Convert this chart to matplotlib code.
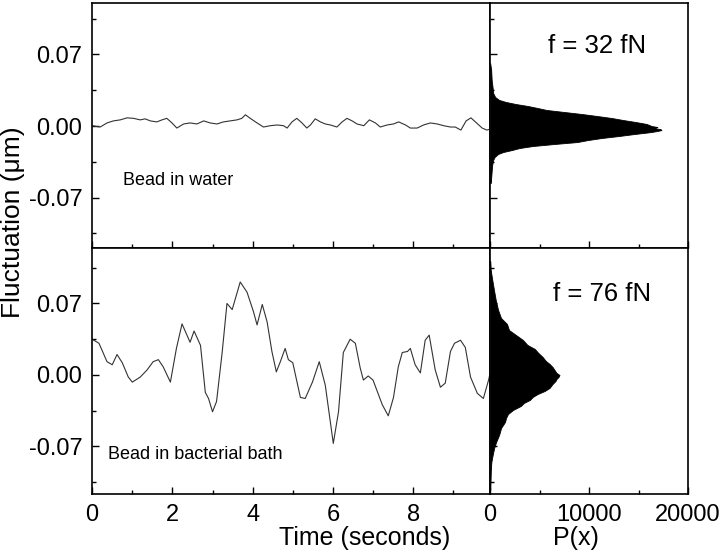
"""
Bead fluctuation traces (water vs bacterial bath) with position histograms.
Saves out.png.
"""

import matplotlib
matplotlib.use("Agg")
import matplotlib.pyplot as plt
from matplotlib.ticker import MultipleLocator

plt.rcParams.update({
    "font.family": ["Liberation Sans", "DejaVu Sans"],
    "font.size": 17,
    "axes.linewidth": 1.2,
})

LINE = "#333333"

# ── data ──────────────────────────────────────────────────────────────────────
water_t = [0.0, 0.2, 0.37, 0.53, 0.7, 0.87, 1.03, 1.2, 1.32, 1.45, 1.61, 1.74,
           1.86, 1.99, 2.11, 2.28, 2.44, 2.61, 2.78, 2.94, 3.11, 3.27, 3.44,
           3.61, 3.73, 3.82, 3.94, 4.11, 4.27, 4.44, 4.61, 4.77, 4.86, 4.98,
           5.1, 5.23, 5.35, 5.44, 5.56, 5.69, 5.81, 5.94, 6.1, 6.23, 6.35,
           6.48, 6.6, 6.77, 6.91, 7.06, 7.18, 7.35, 7.51, 7.64, 7.81, 7.93,
           8.1, 8.26, 8.43, 8.6, 8.76, 8.93, 9.05, 9.19, 9.32, 9.44, 9.58,
           9.72, 9.84, 9.92]
water_x = [0.0003, -0.001, 0.003, 0.005, 0.006, 0.008, 0.0075, 0.006, 0.007,
           0.005, 0.004, 0.006, 0.0075, 0.003, -0.002, 0.002, 0.003, 0.002,
           0.005, 0.003, 0.002, 0.004, 0.005, 0.006, 0.0075, 0.011, 0.0075,
           0.003, -0.001, 0.0003, 0.001, 0.0003, -0.002, 0.004,
           0.0075, 0.003, -0.002, 0.001, 0.007, 0.004, 0.002, 0.001, -0.001,
           0.004, 0.0075, 0.005, 0.002, 0.0003, 0.006, 0.003, -0.001, 0.001,
           0.002, 0.004, 0.001, -0.002, -0.002, 0.001, 0.003, 0.002, 0.0003,
           -0.001, -0.001, -0.004, 0.005, 0.008, 0.003, -0.002, -0.004, -0.003]

bath_t = [0.0, 0.17, 0.37, 0.5, 0.62, 0.75, 0.9, 1.0, 1.2, 1.37, 1.52, 1.65,
          1.77, 1.95, 2.1, 2.24, 2.44, 2.54, 2.7, 2.82, 2.9, 3.0, 3.1, 3.24,
          3.36, 3.49, 3.69, 3.86, 4.02, 4.11, 4.24, 4.36, 4.48, 4.59, 4.69,
          4.81, 4.89, 5.0, 5.19, 5.31, 5.49, 5.66, 5.81, 6.01, 6.14, 6.26,
          6.43, 6.56, 6.68, 6.76, 6.88, 7.0, 7.23, 7.38, 7.51, 7.63, 7.73,
          7.86, 7.93, 8.05, 8.18, 8.3, 8.4, 8.55, 8.68, 8.8, 8.93, 9.03,
          9.18, 9.3, 9.43, 9.6, 9.75, 9.88, 9.92]
bath_x = [0.035, 0.031, 0.013, 0.010, 0.020, 0.012, -0.002, -0.007, -0.002,
          0.005, 0.013, 0.015, 0.008, -0.007, 0.026, 0.050, 0.032, 0.043,
          0.029, -0.017, -0.023, -0.036, -0.026, 0.022, 0.070, 0.064, 0.091,
          0.081, 0.062, 0.049, 0.069, 0.052, 0.023, 0.003, 0.013, 0.026,
          0.015, 0.012, -0.022, -0.023, -0.007, 0.013, -0.010, -0.067,
          -0.036, 0.022, 0.035, 0.031, 0.007, -0.005, -0.001, -0.005, -0.029,
          -0.040, -0.022, 0.008, 0.022, 0.023, 0.026, 0.010, 0.002, 0.034,
          0.039, 0.005, -0.012, -0.008, 0.023, 0.031, 0.034, 0.027, -0.002,
          -0.018, -0.023, -0.005, 0.002]

# histogram P(x): position (µm) and counts
water_hx = [0.0617, 0.0548, 0.045, 0.0372, 0.0323, 0.0284, 0.0255, 0.0235,
            0.0215, 0.0196, 0.0176, 0.0157, 0.0137, 0.0117, 0.0098, 0.0078,
            0.0059, 0.0039, 0.002, 0.0, -0.001, -0.002, -0.003, -0.004,
            -0.005, -0.006, -0.0078, -0.0098, -0.0117, -0.0137, -0.0157,
            -0.0176, -0.0196, -0.0215, -0.0235, -0.0255, -0.0274, -0.0303,
            -0.0333, -0.0382, -0.048, -0.0558]
water_p = [0, 100, 150, 250, 300, 500, 900, 1600, 2600, 3800, 4800, 5700,
           7500, 9300, 10800, 12300, 13400, 14700, 15800, 16300, 16900, 16500,
           17200, 17300, 16800, 16200, 14600, 13000, 11300, 9900, 8800, 6500,
           4300, 3000, 2200, 1300, 800, 450, 300, 200, 120, 60]

bath_hx = [0.1116, 0.1028, 0.092, 0.0822, 0.0724, 0.0636, 0.0558, 0.0499,
           0.044, 0.0382, 0.0343, 0.0294, 0.0255, 0.0215, 0.0176, 0.0137,
           0.0108, 0.0078, 0.0049, 0.002, 0.0, -0.002, -0.0039, -0.0059,
           -0.0088, -0.0127, -0.0157, -0.0186, -0.0215, -0.0245, -0.0274,
           -0.0303, -0.0343, -0.0382, -0.0421, -0.046, -0.0519, -0.0587,
           -0.0656, -0.0715, -0.0783, -0.0852, -0.093, -0.1038, -0.1126]
bath_p = [0, 50, 230, 400, 580, 800, 1090, 1700, 1900, 2740, 3300, 3760, 4500,
          4870, 5300, 5620, 6000, 6300, 6500, 6700, 7000, 6900, 6700, 6600,
          6300, 6000, 5500, 4800, 4300, 4000, 3400, 3100, 2300, 1800, 1600,
          1500, 1100, 900, 600, 400, 250, 120, 60, 30, 0]

y_ticks = [-0.07, 0.0, 0.07]
y_labels = ["-0.07", "0.00", "0.07"]


def style(ax):
    ax.tick_params(which="both", direction="in", width=1.0)
    ax.tick_params(which="major", length=5, pad=7)
    ax.tick_params(which="minor", length=3)


fig = plt.figure(figsize=(7.2, 5.58), dpi=100)
L, W1, W2 = 0.128, 0.5528, 0.2750
ax_w = fig.add_axes([L, 0.5556, W1, 0.4390])
ax_b = fig.add_axes([L, 0.1147, W1, 0.4409])
h_w = fig.add_axes([L + W1, 0.5556, W2, 0.4390])
h_b = fig.add_axes([L + W1, 0.1147, W2, 0.4409])

# ── time traces ──────────────────────────────────────────────────────────────
ax_w.plot(water_t, water_x, color=LINE, lw=0.8)
ax_b.plot(bath_t, bath_x, color=LINE, lw=0.8)

for ax, ylim in ((ax_w, (-0.1194, 0.1204)), (ax_b, (-0.1165, 0.1243))):
    ax.set_xlim(0, 9.92)
    ax.set_ylim(*ylim)
    ax.set_yticks(y_ticks)
    ax.set_yticklabels(y_labels)
    ax.yaxis.set_minor_locator(MultipleLocator(0.035))
    ax.xaxis.set_major_locator(MultipleLocator(2))
    ax.xaxis.set_minor_locator(MultipleLocator(1))
    style(ax)
ax_w.tick_params(labelbottom=False)

ax_w.text(0.77, -0.053, "Bead in water", fontsize=13, va="center")
ax_b.text(0.4, -0.078, "Bead in bacterial bath", fontsize=13, va="center")

# ── histograms ───────────────────────────────────────────────────────────────
h_w.fill_betweenx(water_hx, 0, water_p, color="black", lw=0.6)
h_b.fill_betweenx(bath_hx, 0, bath_p, color="black", lw=0.6)

for h, ax in ((h_w, ax_w), (h_b, ax_b)):
    h.set_ylim(ax.get_ylim())
    h.set_xlim(0, 20000)
    h.set_yticks(y_ticks)
    h.yaxis.set_minor_locator(MultipleLocator(0.035))
    h.xaxis.set_major_locator(MultipleLocator(10000))
    h.xaxis.set_minor_locator(MultipleLocator(5000))
    h.tick_params(labelleft=False)
    style(h)
h_w.tick_params(labelbottom=False)

h_w.text(0.54, 0.824, "f = 32 fN", transform=h_w.transAxes,
         fontsize=18.5, ha="center", va="center")
h_b.text(0.563, 0.813, "f = 76 fN", transform=h_b.transAxes,
         fontsize=18.5, ha="center", va="center")

fig.text(0.018, 0.602, "Fluctuation (μm)", rotation=90,
         ha="center", va="center", fontsize=19)
fig.text(0.506, 0.036, "Time (seconds)", ha="center", va="center", fontsize=18)
fig.text(0.800, 0.036, "P(x)", ha="center", va="center", fontsize=18)

fig.savefig("out.png", dpi=100)
